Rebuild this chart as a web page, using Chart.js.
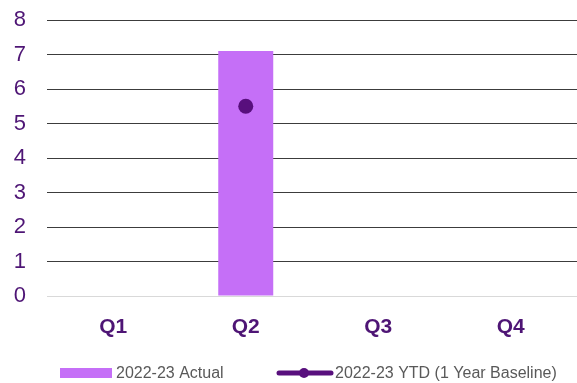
<!DOCTYPE html>
<html>
<head>
<meta charset="utf-8">
<script src="https://cdn.jsdelivr.net/npm/chart.js@4/dist/chart.umd.min.js"></script>
<style>
  html, body { margin: 0; padding: 0; background: #fff; }
  #wrap { width: 577px; height: 383px; }
</style>
</head>
<body>
<div id="wrap"><canvas id="quarterChart"></canvas></div>
<script>
const quarters = ['Q1', 'Q2', 'Q3', 'Q4'];
const actual = [null, 7.1, null, null];
const ytdBaseline = [null, 5.5, null, null];
const yTicks = [0, 1, 2, 3, 4, 5, 6, 7, 8];

const barColor = '#C56FF7';
const lineColor = '#580F7D';
const tickColor = '#4E1575';

// legend drawn by hand: bar swatch + line-with-dot swatch
const bottomLegend = {
  id: 'bottomLegend',
  afterDraw(chart) {
    const ctx = chart.ctx;
    const y = 373;
    const bar = chart.data.datasets.find(d => d.type === 'bar');
    const line = chart.data.datasets.find(d => d.type === 'line');
    ctx.save();
    ctx.font = '16px "Liberation Sans", Arial, sans-serif';
    ctx.textBaseline = 'middle';

    ctx.fillStyle = bar.backgroundColor;
    ctx.fillRect(60, y - 5, 52, 10);
    ctx.fillStyle = '#595959';
    ctx.fillText(bar.label, 116, y + 1);

    ctx.strokeStyle = line.borderColor;
    ctx.lineWidth = 5;
    ctx.lineCap = 'round';
    ctx.beginPath();
    ctx.moveTo(279, y);
    ctx.lineTo(331, y);
    ctx.stroke();
    ctx.fillStyle = line.pointBackgroundColor;
    ctx.beginPath();
    ctx.arc(304, y, 5, 0, Math.PI * 2);
    ctx.fill();
    ctx.fillStyle = '#595959';
    ctx.fillText(line.label, 335, y + 1);
    ctx.restore();
  }
};

// empty quarters get no point, so they add no overflow padding
const dotRadius = ctx => (ctx.raw == null ? 0 : 7.5);

new Chart(document.getElementById('quarterChart'), {
  data: {
    labels: quarters,
    datasets: [
      {
        type: 'line',
        label: '2022-23 YTD (1 Year Baseline)',
        data: ytdBaseline,
        borderColor: lineColor,
        borderWidth: 0,
        pointBackgroundColor: lineColor,
        pointBorderWidth: 0,
        pointRadius: dotRadius,
        pointHoverRadius: dotRadius,
        order: 0
      },
      {
        type: 'bar',
        label: '2022-23 Actual',
        data: actual,
        backgroundColor: barColor,
        categoryPercentage: 1,
        barPercentage: 0.415,
        order: 1
      }
    ]
  },
  options: {
    responsive: true,
    maintainAspectRatio: false,
    animation: false,
    layout: { padding: { top: 20, right: 0, left: 0, bottom: 27 } },
    plugins: {
      legend: { display: false },
      tooltip: { enabled: false }
    },
    scales: {
      x: {
        grid: { display: false },
        border: { display: false },
        ticks: {
          color: tickColor,
          padding: 11,
          font: { family: '"Liberation Sans", Arial, sans-serif', size: 21, weight: 'bold' }
        },
        afterFit(axis) {
          axis.height = 60;
          axis.paddingLeft = 0;
          axis.paddingRight = 0;
        }
      },
      y: {
        min: 0,
        max: 8,
        afterBuildTicks(axis) { axis.ticks = yTicks.map(v => ({ value: v })); },
        grid: {
          color: ctx => ctx.tick && ctx.tick.value === 0 ? '#d9d9d9' : '#3c3c3c',
          lineWidth: 1,
          drawTicks: false
        },
        border: { display: false },
        ticks: {
          color: tickColor,
          padding: 21,
          font: { family: '"Liberation Sans", Arial, sans-serif', size: 22 }
        },
        afterFit(axis) {
          axis.width = 47;
          axis.paddingTop = 0;
          axis.paddingBottom = 0;
        }
      }
    }
  },
  plugins: [bottomLegend]
});
</script>
</body>
</html>
